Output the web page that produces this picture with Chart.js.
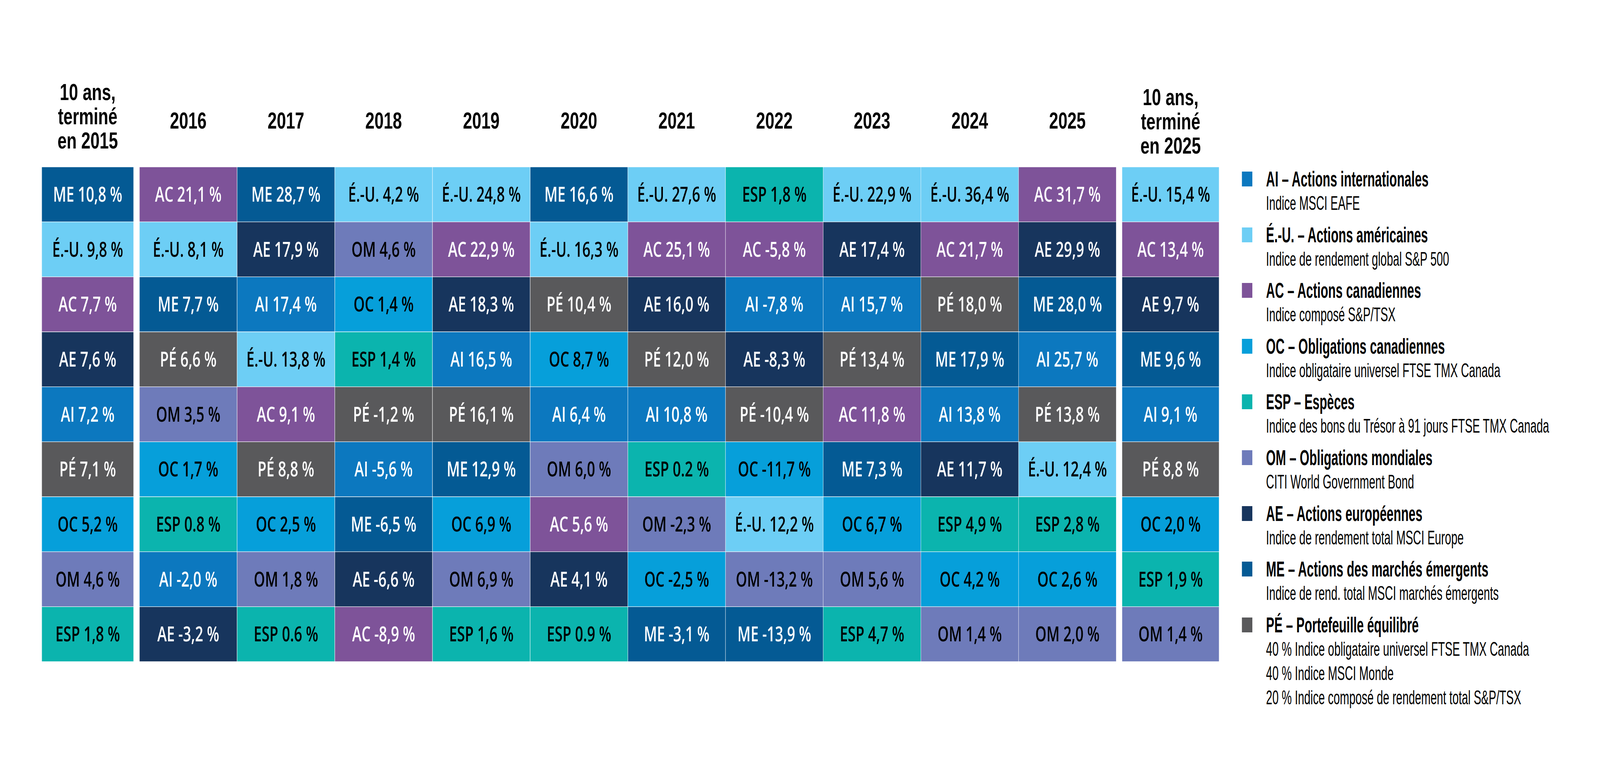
<!DOCTYPE html>
<html lang="fr">
<head>
<meta charset="utf-8">
<title>Rendements des catégories d'actifs</title>
<script src="https://cdn.jsdelivr.net/npm/chart.js@4.4.1/dist/chart.umd.min.js"></script>
<style>
  html, body { margin: 0; padding: 0; background: #fff; overflow: hidden; width: 100%; height: 100%; }
  #stage { position: absolute; left: 0; top: 0; width: 5831px; height: 2006px; overflow: hidden; background: #fff; transform-origin: 0 0; }
  .box { position: absolute; top: 0; height: 1693px; }
  .box canvas { display: block; }
  #legend { position: absolute; left: 4614px; top: 427px; color: #000; white-space: nowrap; }
  .item { position: relative; margin-bottom: 18.6px; }
  .item .sq { position: absolute; left: -88px; top: 12px; width: 38px; height: 38px; }
  .item .ttl { font-weight: bold; font-size: 55px; line-height: 62px; }
  .item .sub { font-weight: normal; font-size: 50px; line-height: 62px; }
  .item .ttl span, .item .sub span { display: inline-block; transform-origin: 0 50%; }
</style>
</head>
<body>
<div id="stage">
  <div class="box" style="left:152px;width:335px"><canvas id="chartPre"></canvas></div>
  <div class="box" style="left:508px;width:3560px"><canvas id="chartYears"></canvas></div>
  <div class="box" style="left:4089px;width:354px"><canvas id="chartPost"></canvas></div>
  <div id="legend"></div>
</div>
<script>
// ---------- Asset classes (legend order) ----------
const ASSET_CODES = ["AI", "É.-U.", "AC", "OC", "ESP", "OM", "AE", "ME", "PÉ"];
const ASSET_NAMES = ["Actions internationales", "Actions américaines", "Actions canadiennes",
  "Obligations canadiennes", "Espèces", "Obligations mondiales", "Actions européennes",
  "Actions des marchés émergents", "Portefeuille équilibré"];
const ASSET_INDEXES = [
  ["Indice MSCI EAFE"],
  ["Indice de rendement global S&P 500"],
  ["Indice composé S&P/TSX"],
  ["Indice obligataire universel FTSE TMX Canada"],
  ["Indice des bons du Trésor à 91 jours FTSE TMX Canada"],
  ["CITI World Government Bond"],
  ["Indice de rendement total MSCI Europe"],
  ["Indice de rend. total MSCI marchés émergents"],
  ["40 % Indice obligataire universel FTSE TMX Canada", "40 % Indice MSCI Monde",
   "20 % Indice composé de rendement total S&P/TSX"]
];

// ---------- Header labels ----------
const HEADER_PRE = ["10 ans,", "terminé", "en 2015"];
const YEARS = ["2016", "2017", "2018", "2019", "2020", "2021", "2022", "2023", "2024", "2025"];
const HEADER_POST = ["10 ans,", "terminé", "en 2025"];

// ---------- Ranked returns per column (top to bottom) ----------
const ranks10y2015 = ["ME", "É.-U.", "AC", "AE", "AI", "PÉ", "OC", "OM", "ESP"];
const returns10y2015 = [10.8, 9.8, 7.7, 7.6, 7.2, 7.1, 5.2, 4.6, 1.8];
const ranks2016 = ["AC", "É.-U.", "ME", "PÉ", "OM", "OC", "ESP", "AI", "AE"];
const returns2016 = [21.1, 8.1, 7.7, 6.6, 3.5, 1.7, 0.8, -2.0, -3.2];
const ranks2017 = ["ME", "AE", "AI", "É.-U.", "AC", "PÉ", "OC", "OM", "ESP"];
const returns2017 = [28.7, 17.9, 17.4, 13.8, 9.1, 8.8, 2.5, 1.8, 0.6];
const ranks2018 = ["É.-U.", "OM", "OC", "ESP", "PÉ", "AI", "ME", "AE", "AC"];
const returns2018 = [4.2, 4.6, 1.4, 1.4, -1.2, -5.6, -6.5, -6.6, -8.9];
const ranks2019 = ["É.-U.", "AC", "AE", "AI", "PÉ", "ME", "OC", "OM", "ESP"];
const returns2019 = [24.8, 22.9, 18.3, 16.5, 16.1, 12.9, 6.9, 6.9, 1.6];
const ranks2020 = ["ME", "É.-U.", "PÉ", "OC", "AI", "OM", "AC", "AE", "ESP"];
const returns2020 = [16.6, 16.3, 10.4, 8.7, 6.4, 6.0, 5.6, 4.1, 0.9];
const ranks2021 = ["É.-U.", "AC", "AE", "PÉ", "AI", "ESP", "OM", "OC", "ME"];
const returns2021 = [27.6, 25.1, 16.0, 12.0, 10.8, 0.2, -2.3, -2.5, -3.1];
const ranks2022 = ["ESP", "AC", "AI", "AE", "PÉ", "OC", "É.-U.", "OM", "ME"];
const returns2022 = [1.8, -5.8, -7.8, -8.3, -10.4, -11.7, 12.2, -13.2, -13.9];
const ranks2023 = ["É.-U.", "AE", "AI", "PÉ", "AC", "ME", "OC", "OM", "ESP"];
const returns2023 = [22.9, 17.4, 15.7, 13.4, 11.8, 7.3, 6.7, 5.6, 4.7];
const ranks2024 = ["É.-U.", "AC", "PÉ", "ME", "AI", "AE", "ESP", "OC", "OM"];
const returns2024 = [36.4, 21.7, 18.0, 17.9, 13.8, 11.7, 4.9, 4.2, 1.4];
const ranks2025 = ["AC", "AE", "ME", "AI", "PÉ", "É.-U.", "ESP", "OC", "OM"];
const returns2025 = [31.7, 29.9, 28.0, 25.7, 13.8, 12.4, 2.8, 2.6, 2.0];
const ranks10y2025 = ["É.-U.", "AC", "AE", "ME", "AI", "PÉ", "OC", "ESP", "OM"];
const returns10y2025 = [15.4, 13.4, 9.7, 9.6, 9.1, 8.8, 2.0, 1.9, 1.4];

// cells printed with a decimal point instead of a comma in the source
const POINT_DECIMAL_CELLS = ["2016:ESP", "2017:ESP", "2020:ESP", "2021:ESP"];

// ---------- Styles ----------
const ASSET_COLORS = {
  "AI": "#0C78BF", "É.-U.": "#6DCEF5", "AC": "#7E5399", "OC": "#069FDA", "ESP": "#0BB4AE",
  "OM": "#6E7BBA", "AE": "#17355D", "ME": "#045A94", "PÉ": "#59595B"
};
const DARK_TEXT_CODES = ["É.-U.", "OC", "ESP", "OM"];
const HEADER_FONT = '"Liberation Sans", Arial, sans-serif';
const CELL_FONT_SIZE = 52;
const CELL_FONT = `600 ${CELL_FONT_SIZE}px "Open Sans", "Liberation Sans", sans-serif`;

// ---------- Fit the 5831 x 2006 design into the actual viewport ----------
(function fitStage() {
  const W = document.documentElement.clientWidth || window.innerWidth || 5831;
  const H = document.documentElement.clientHeight || window.innerHeight || 2006;
  const sx = W / 5831, sy = H / 2006;
  if (Math.abs(sx - 1) > 0.002 || Math.abs(sy - 1) > 0.002) {
    document.getElementById("stage").style.transform = `scale(${sx}, ${sy})`;
  }
})();

const preColumns = [{ key: "10y2015", ranks: ranks10y2015, returns: returns10y2015 }];
const yearColumns = [
  { key: "2016", ranks: ranks2016, returns: returns2016 },
  { key: "2017", ranks: ranks2017, returns: returns2017 },
  { key: "2018", ranks: ranks2018, returns: returns2018 },
  { key: "2019", ranks: ranks2019, returns: returns2019 },
  { key: "2020", ranks: ranks2020, returns: returns2020 },
  { key: "2021", ranks: ranks2021, returns: returns2021 },
  { key: "2022", ranks: ranks2022, returns: returns2022 },
  { key: "2023", ranks: ranks2023, returns: returns2023 },
  { key: "2024", ranks: ranks2024, returns: returns2024 },
  { key: "2025", ranks: ranks2025, returns: returns2025 }
];
const postColumns = [{ key: "10y2025", ranks: ranks10y2025, returns: returns10y2025 }];

function formatReturn(v, key, code) {
  const s = v.toFixed(1);
  return POINT_DECIMAL_CELLS.includes(key + ":" + code) ? s : s.replace(".", ",");
}

function makeCellPlugin(columns) {
  return {
    id: "cellLabels",
    afterDatasetsDraw(chart) {
      const ctx = chart.ctx;
      ctx.save();
      ctx.font = CELL_FONT;
      ctx.textAlign = "center";
      ctx.textBaseline = "alphabetic";
      chart.data.datasets.forEach((ds, di) => {
        const meta = chart.getDatasetMeta(di);
        meta.data.forEach((bar, j) => {
          const col = columns[j];
          const r = col.ranks.indexOf(ds.label);
          if (r < 0) return;
          const txt = ds.label + " " + formatReturn(col.returns[r], col.key, ds.label) + " %";
          ctx.fillStyle = DARK_TEXT_CODES.includes(ds.label) ? "#000" : "#fff";
          const cy = (bar.y + bar.base) / 2;
          ctx.fillText(txt, bar.x, cy + CELL_FONT_SIZE * 0.357);
        });
      });
      ctx.restore();
    }
  };
}

function buildChart(canvasId, labels, columns, lineHeight, tickPad) {
  const datasets = ASSET_CODES.map(code => ({
    label: code,
    data: columns.map(col => {
      const r = col.ranks.indexOf(code);
      return [r, r + 1];
    }),
    backgroundColor: ASSET_COLORS[code],
    borderColor: "#ffffff",
    borderWidth: 1,
    borderSkipped: false,
    grouped: false,
    barPercentage: 1,
    categoryPercentage: 1
  }));
  return new Chart(document.getElementById(canvasId), {
    type: "bar",
    data: { labels, datasets },
    options: {
      responsive: true,
      maintainAspectRatio: false,
      animation: false,
      layout: { padding: 0 },
      plugins: { legend: { display: false }, tooltip: { enabled: false } },
      scales: {
        x: {
          position: "top",
          grid: { display: false, drawTicks: false },
          border: { display: false },
          ticks: {
            color: "#000",
            padding: tickPad,
            autoSkip: false,
            maxRotation: 0,
            minRotation: 0,
            font: { family: HEADER_FONT, size: 60, weight: "bold", lineHeight: lineHeight }
          },
          afterFit(scale) {
            scale.height = 427;
            scale.paddingLeft = 0;
            scale.paddingRight = 0;
          }
        },
        y: { display: false, min: 0, max: 9, reverse: true }
      }
    },
    plugins: [makeCellPlugin(columns)]
  });
}

buildChart("chartPre", [HEADER_PRE], preColumns, 62 / 60, 33);
buildChart("chartYears", YEARS, yearColumns, 1.2, 79);
buildChart("chartPost", [HEADER_POST], postColumns, 62 / 60, 20);

// ---------- Legend (HTML, built from the arrays) ----------
function fontAvailable(name) {
  const c = document.createElement("canvas").getContext("2d");
  const s = "Indice MSCI EAFE mmwwii 0123";
  c.font = "50px monospace";
  const a = c.measureText(s).width;
  c.font = `50px "${name}", monospace`;
  const b = c.measureText(s).width;
  return Math.abs(a - b) > 0.5;
}
const hasNarrow = fontAvailable("Liberation Sans Narrow");
const legendEl = document.getElementById("legend");
legendEl.style.fontFamily = hasNarrow ? '"Liberation Sans Narrow", "Liberation Sans", sans-serif'
                                      : '"Liberation Sans", sans-serif';
const squeeze = hasNarrow ? "" : "scaleX(0.82)";
ASSET_CODES.forEach((code, i) => {
  const item = document.createElement("div");
  item.className = "item";
  const sq = document.createElement("div");
  sq.className = "sq";
  sq.style.background = ASSET_COLORS[code];
  item.appendChild(sq);
  const t = document.createElement("div");
  t.className = "ttl";
  const ts = document.createElement("span");
  ts.textContent = code + " – " + ASSET_NAMES[i];
  ts.style.transform = squeeze;
  t.appendChild(ts);
  item.appendChild(t);
  ASSET_INDEXES[i].forEach(line => {
    const d = document.createElement("div");
    d.className = "sub";
    const s = document.createElement("span");
    s.textContent = line;
    s.style.transform = squeeze;
    d.appendChild(s);
    item.appendChild(d);
  });
  legendEl.appendChild(item);
});
</script>
</body>
</html>
